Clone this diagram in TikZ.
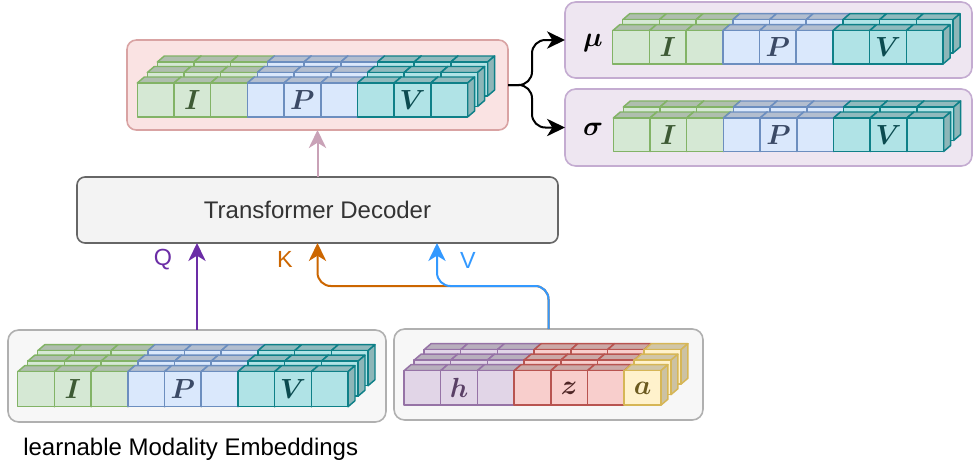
\documentclass[tikz,border=0pt]{standalone}
\usepackage{amsmath}
\usepackage{fontspec}
\newfontfamily\arialf{Liberation Sans}
\usetikzlibrary{arrows.meta}

\definecolor{grF}{HTML}{D5E8D4}\definecolor{grL}{HTML}{82B366}
\definecolor{blF}{HTML}{DAE8FC}\definecolor{blL}{HTML}{6C8EBF}
\definecolor{tlF}{HTML}{B0E3E6}\definecolor{tlL}{HTML}{0E8088}
\definecolor{puF}{HTML}{E1D5E7}\definecolor{puL}{HTML}{9673A6}
\definecolor{rdF}{HTML}{F8CECC}\definecolor{rdL}{HTML}{B85450}
\definecolor{ylF}{HTML}{FFF2CC}\definecolor{ylL}{HTML}{D6B656}
\colorlet{grT}{grF!82!black}\colorlet{grS}{grF!80!black}
\colorlet{blT}{blF!82!black}\colorlet{blS}{blF!80!black}
\colorlet{tlT}{tlF!82!black}\colorlet{tlS}{tlF!80!black}
\colorlet{puT}{puF!82!black}\colorlet{puS}{puF!80!black}
\colorlet{rdT}{rdF!82!black}\colorlet{rdS}{rdF!80!black}
\colorlet{ylT}{ylF!82!black}\colorlet{ylS}{ylF!80!black}
\definecolor{pinkF}{HTML}{FAE3E3}\definecolor{pinkL}{HTML}{D9A3A3}
\definecolor{lavF}{HTML}{EEE6F1}\definecolor{lavL}{HTML}{C4ACD1}
\definecolor{decF}{HTML}{F3F3F3}\definecolor{decL}{HTML}{666666}
\definecolor{embF}{HTML}{F7F7F7}\definecolor{embL}{HTML}{B0B0B0}
\definecolor{arrPink}{HTML}{C9A2B7}
\definecolor{arrQ}{HTML}{6B2DA6}
\definecolor{arrK}{HTML}{CC6600}
\definecolor{arrV}{HTML}{3399FF}
\definecolor{txI}{HTML}{3D5A34}\definecolor{txP}{HTML}{3B4A66}
\definecolor{txV}{HTML}{0B4B50}\definecolor{txH}{HTML}{5A4066}
\definecolor{txZ}{HTML}{4E2626}\definecolor{txA}{HTML}{6B5A20}

% one cube: x, y (top-left of front face), colour prefix, height
\newcommand{\onecube}[4]{%
  \filldraw[fill=#3T, draw=#3L, line width=1.1pt, line join=round]
    (#1,#2) -- ++(7,-6) -- ++(36.7,0) -- ++(-7,6) -- cycle;
  \filldraw[fill=#3S, draw=#3L, line width=1.1pt, line join=round]
    (#1+36.7,#2) -- ++(7,-6) -- ++(0,#4) -- ++(-7,6) -- cycle;
  \filldraw[fill=#3F, draw=#3L, line width=1.1pt, line join=round]
    (#1,#2) rectangle ++(36.7,#4);
}
% stack: x0, y0, layer list (back to front), height, colour list, layer dy
\newcommand{\cubestack}[6]{%
  \foreach \L in {#3} {
    \foreach \cc [count=\i from 0] in {#5} {
      \pgfmathsetmacro\cx{#1+\L*10+\i*36.7}
      \pgfmathsetmacro\cy{#2-\L*#6}
      \edef\tmp{\noexpand\onecube{\cx}{\cy}{\cc}{#4}}\tmp
    }
  }
}

\tikzset{
  box/.style={rectangle, inner sep=0pt, outer sep=0pt, line width=1.2pt},
  letter/.style={inner sep=0pt, font=\fontsize{20.74}{24}\selectfont},
  lbl/.style={inner sep=0pt, font=\arialf\fontsize{17.5}{20}\selectfont},
  arr/.style={line width=1.5pt, -{Stealth[length=13.5pt, width=13pt, inset=4pt]}}
}

\begin{document}
\begin{tikzpicture}[x=0.75pt, y=-0.75pt]
\useasboundingbox (0,0) rectangle (973,469);
\fill[white] (0,0) rectangle (973,469);

% containers
\node[box, fill=pinkF, draw=pinkL, rounded corners=7pt, minimum width=285.75pt, minimum height=67.5pt] (pink) at (317.5,85) {};
\node[box, fill=lavF, draw=lavL, rounded corners=8pt, minimum width=305.25pt, minimum height=57pt] (mu) at (768.5,40) {};
\node[box, fill=lavF, draw=lavL, rounded corners=8pt, minimum width=305.25pt, minimum height=57.75pt] (sigma) at (768.5,127.5) {};
\node[box, fill=decF, draw=decL, rounded corners=6pt, minimum width=360.75pt, minimum height=49.5pt,
      font=\arialf\fontsize{18}{20}\selectfont, text=black!80] (dec) at (317.5,210) {Transformer Decoder};
\node[box, fill=embF, draw=embL, rounded corners=8pt, minimum width=283.5pt, minimum height=69pt] (emb) at (197,376) {};
\node[box, fill=embF, draw=embL, rounded corners=8pt, minimum width=231.75pt, minimum height=68.25pt] (obs) at (548.5,374.5) {};

% cube stacks
\cubestack{137.3}{83}{2,1,0}{34}{gr,gr,gr,bl,bl,bl,tl,tl,tl}{10.5}
\cubestack{612.7}{30.7}{1,0}{33.3}{gr,gr,gr,bl,bl,bl,tl,tl,tl}{11}
\cubestack{613.3}{118}{1,0}{33.5}{gr,gr,gr,bl,bl,bl,tl,tl,tl}{11}
\cubestack{17.7}{371.7}{2,1,0}{35}{gr,gr,gr,bl,bl,bl,tl,tl,tl}{10.5}
\cubestack{404}{370.7}{2,1,0}{34.5}{pu,pu,pu,rd,rd,rd,yl}{10.5}

% letters
\node[letter, text=txI] (pI) at (192.35,100) {$\boldsymbol{I}$};
\node[letter, text=txP] (pP) at (302.45,100) {$\boldsymbol{P}$};
\node[letter, text=txV] (pV) at (412.55,100) {$\boldsymbol{V}$};
\node[letter, text=txI] (mI) at (667.75,47.4) {$\boldsymbol{I}$};
\node[letter, text=txP] (mP) at (777.85,47.4) {$\boldsymbol{P}$};
\node[letter, text=txV] (mV) at (887.95,47.4) {$\boldsymbol{V}$};
\node[letter, text=txI] (sI) at (668.35,134.8) {$\boldsymbol{I}$};
\node[letter, text=txP] (sP) at (778.45,134.8) {$\boldsymbol{P}$};
\node[letter, text=txV] (sV) at (888.55,134.8) {$\boldsymbol{V}$};
\node[letter, text=txI] (eI) at (72.75,389.2) {$\boldsymbol{I}$};
\node[letter, text=txP] (eP) at (182.85,389.2) {$\boldsymbol{P}$};
\node[letter, text=txV] (eV) at (292.95,389.2) {$\boldsymbol{V}$};
\node[letter, text=txH] (oh) at (459.05,388) {$\boldsymbol{h}$};
\node[letter, text=txZ] (oz) at (569.15,388) {$\boldsymbol{z}$};
\node[letter, text=txA] (oa) at (642.55,388) {$\boldsymbol{a}$};

\node[letter] (mulbl) at (593,43) {$\boldsymbol{\mu}$};
\node[letter] (siglbl) at (593,129) {$\boldsymbol{\sigma}$};

% connectors
\draw[arr, arrPink] (dec.north) -- (pink.south);
\draw[arr, black, rounded corners=10pt] (pink.east) -- ++(24,0) |- (mu.west);
\draw[arr, black, rounded corners=10pt] (pink.east) -- ++(24,0) |- (sigma.west);

\coordinate (kv) at (548.5,286);
\coordinate (vin) at (437,243);
\draw[arr, arrQ] (emb.north) -- (emb.north |- dec.south);
\draw[arr, arrK, rounded corners=10pt] (obs.north) -- (kv) -| (dec.south);
\draw[arr, arrV, rounded corners=10pt] (obs.north) -- (kv) -| (vin);

\node[lbl, text=arrQ] (lq) at (163,260) {Q};
\node[lbl, text=arrK] (lk) at (285,259) {K};
\node[lbl, text=arrV] (lv) at (468,260) {V};

\node[inner sep=0pt, anchor=base west, font=\arialf\fontsize{18}{20}\selectfont] (cap) at (23,455) {learnable Modality Embeddings};
\end{tikzpicture}
\end{document}
